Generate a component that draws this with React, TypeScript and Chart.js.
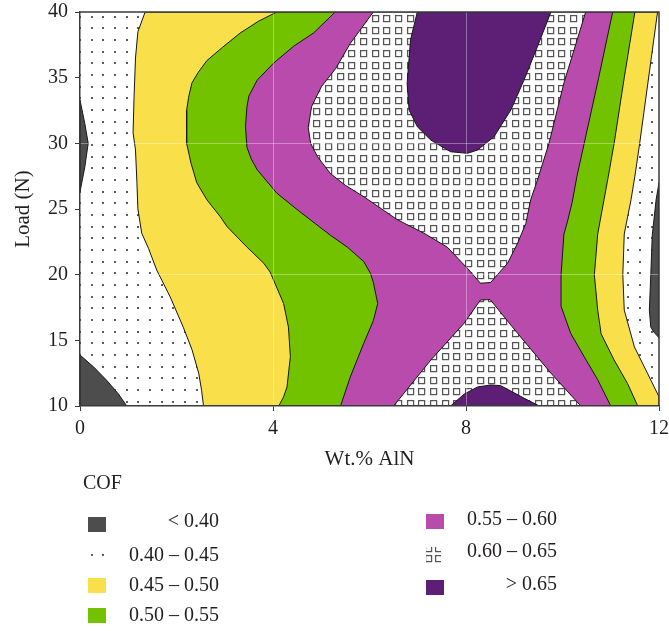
import React, { useEffect, useRef } from 'react';
import { Chart, registerables } from 'chart.js';

Chart.register(...registerables);

type Pt = [number, number];

// ---------- axes ----------
const X_MIN = 0;
const X_MAX = 12;
const X_STEP = 4;
const Y_MIN = 10;
const Y_MAX = 40;
const Y_STEP = 5;
const X_GRID_VALUES = [4, 8];
const Y_GRID_VALUES = [20, 30];
const X_TITLE = 'Wt.% AlN';
const Y_TITLE = 'Load (N)';

// ---------- legend ----------
const LEGEND_TITLE = 'COF';
const LEVEL_LABELS = ['< 0.40', '0.40 – 0.45', '0.45 – 0.50', '0.50 – 0.55', '0.55 – 0.60', '0.60 – 0.65', '> 0.65'];
const LEVEL_FILLS = ['#4d4d4d', 'dots', '#f9e04b', '#72c200', '#b94bad', 'squares', '#5d1f76'];

// ---------- contour boundaries (Wt.% AlN, Load N) ----------
const PLOT_BOUNDS: Pt[] = [[X_MIN, Y_MIN], [X_MAX, Y_MIN], [X_MAX, Y_MAX], [X_MIN, Y_MAX]];

const YELLOW_LEFT: Pt[] = [
  [1.35, 40], [1.2, 38.5], [1.15, 36.5], [1.12, 33.5], [1.1, 30.8], [1.15, 29.5], [1.18, 27], [1.2, 25],
  [1.28, 23.15], [1.42, 22], [1.59, 20.35], [1.87, 18.3], [2.14, 16.0], [2.32, 14.3], [2.46, 12.5],
  [2.52, 11.2], [2.56, 10],
];
const YELLOW_RIGHT: Pt[] = [
  [11.97, 40], [11.77, 34.6], [11.6, 30], [11.5, 27.5], [11.42, 25.7], [11.28, 23.1], [11.25, 20],
  [11.28, 17.3], [11.49, 14.5], [11.76, 12.5], [12, 10.7],
];
const GREEN_LEFT: Pt[] = [
  [4.08, 40], [3.7, 39.3], [3.32, 38.4], [2.95, 37.3], [2.63, 36.3], [2.45, 35.4], [2.32, 34.6],
  [2.25, 33.5], [2.21, 32.5], [2.21, 30], [2.3, 28.5], [2.42, 27.0], [2.63, 25.7], [2.91, 24.4],
  [3.05, 23.65], [3.46, 22.1], [3.81, 20.86], [3.94, 20.2], [4.01, 19.6], [4.22, 17.8], [4.32, 16.0],
  [4.36, 13.75], [4.29, 11.45], [4.22, 10.7], [4.12, 10],
];
const GREEN_RIGHT: Pt[] = [
  [11.5, 40], [11.28, 35], [11.07, 30], [10.95, 27.5], [10.86, 25.7], [10.73, 23.1], [10.66, 20],
  [10.73, 17.3], [10.8, 15.5], [11.07, 13.5], [11.35, 11.7], [11.56, 10],
];
const MAGENTA_LEFT: Pt[] = [
  [5.29, 40], [4.84, 38.4], [4.43, 37.4], [4.01, 36.1], [3.67, 34.8], [3.5, 33.6], [3.46, 32.8],
  [3.43, 31.3], [3.46, 29.7], [3.55, 28.8], [3.67, 28.0], [4.08, 26.2], [4.52, 24.9], [5.19, 23.0],
  [5.54, 22.1], [5.88, 21.0], [6.02, 20.1], [6.08, 19.4], [6.17, 17.8], [6.08, 16.5], [5.88, 14.77],
  [5.6, 12.2], [5.4, 10],
];
const MAGENTA_RIGHT: Pt[] = [
  [11.04, 40], [10.75, 35], [10.45, 30], [10.3, 27.5], [10.2, 25.5], [10.1, 24], [10.03, 23.1],
  [9.97, 20], [9.97, 17.6], [10.17, 15.53], [10.45, 13.75], [10.73, 12.0], [11.0, 10],
];
const SQUARES_UPPER: Pt[] = [
  [6.08, 40], [5.6, 37.6], [5.3, 35.7], [5.0, 34.3], [4.8, 32.8], [4.73, 31.2], [4.78, 30.0],
  [4.92, 29], [5.19, 27.7], [5.5, 26.8], [5.88, 25.94], [6.57, 24.2], [7.13, 23.15], [7.61, 22.1],
  [8.03, 20.48], [8.3, 19.35], [8.51, 19.4], [8.7, 20.2], [8.86, 20.86], [9.07, 22.4], [9.24, 23.9],
  [9.34, 25.7], [9.48, 27.2], [9.72, 30], [10.03, 34.6], [10.48, 40],
];
const SQUARES_LOWER: Pt[] = [
  [6.5, 10], [7.27, 13.5], [7.96, 16.3], [8.3, 18.07], [8.5, 18.1], [9.07, 15.53], [9.76, 12.5], [10.38, 10],
];
const PURPLE_TOP: Pt[] = [
  [6.99, 40], [6.85, 37.87], [6.78, 34.57], [6.82, 32.54], [6.99, 31.27], [7.27, 30.25], [7.68, 29.36],
  [8.03, 29.24], [8.24, 29.49], [8.58, 30.5], [8.93, 32.54], [9.2, 34.8], [9.48, 37.36], [9.76, 40],
];
const PURPLE_BOTTOM: Pt[] = [
  [7.68, 10], [7.96, 10.9], [8.24, 11.45], [8.51, 11.6], [8.72, 11.55], [9.2, 10.6], [9.52, 10],
];
const GRAY_LEFT_MID: Pt[] = [[0, 33.3], [0.1, 31.5], [0.17, 30], [0.1, 28.2], [0, 26.3]];
const GRAY_LEFT_LOW: Pt[] = [[0, 13.88], [0.28, 12.98], [0.55, 11.97], [0.8, 10.9], [0.97, 10], [0, 10]];
const GRAY_RIGHT: Pt[] = [
  [12, 27.0], [11.94, 25.7], [11.86, 23], [11.83, 20], [11.8, 17.3], [11.83, 16.0], [11.9, 15.6], [12, 15.2],
];

const rev = (a: Pt[]) => [...a].reverse();

// painter's order: first drawn first
const REGIONS: { level: number; pts: Pt[]; stroke: boolean }[] = [
  { level: 1, pts: PLOT_BOUNDS, stroke: false },
  { level: 2, pts: [...YELLOW_LEFT, [X_MAX, Y_MIN], ...rev(YELLOW_RIGHT)], stroke: true },
  { level: 3, pts: [...GREEN_LEFT, ...rev(GREEN_RIGHT)], stroke: true },
  { level: 4, pts: [...MAGENTA_LEFT, ...rev(MAGENTA_RIGHT)], stroke: true },
  { level: 5, pts: SQUARES_UPPER, stroke: true },
  { level: 5, pts: SQUARES_LOWER, stroke: true },
  { level: 6, pts: PURPLE_TOP, stroke: true },
  { level: 6, pts: PURPLE_BOTTOM, stroke: true },
  { level: 0, pts: GRAY_LEFT_MID, stroke: true },
  { level: 0, pts: GRAY_LEFT_LOW, stroke: true },
  { level: 0, pts: GRAY_RIGHT, stroke: true },
];

// ---------- styling ----------
const FONT = '"Liberation Serif", "Times New Roman", serif';
const TEXT = '#231f20';
const AXIS = '#3a3a3a';
const LINE = '#161616';
const DOT_GRAY = '#5e5e5e';
const SQUARE_GRAY = '#555555';

function drawDots(g: CanvasRenderingContext2D) {
  g.fillStyle = DOT_GRAY;
  for (const x of [0, 12, 23]) for (const y of [4, 15, 27]) g.fillRect(x, y, 2, 2);
}
function drawSquares(g: CanvasRenderingContext2D) {
  g.strokeStyle = SQUARE_GRAY;
  g.lineWidth = 1.25;
  for (const x of [0, 12, 23]) for (const y of [3, 15, 26]) g.strokeRect(x + 0.6, y + 0.6, 6, 6);
}
function makePattern(kind: 'dots' | 'squares', ox: number, oy: number): CanvasPattern {
  const c = document.createElement('canvas');
  c.width = 35;
  c.height = 35;
  const g = c.getContext('2d')!;
  g.fillStyle = '#ffffff';
  g.fillRect(0, 0, 35, 35);
  if (kind === 'dots') drawDots(g);
  else drawSquares(g);
  const p = g.createPattern(c, 'repeat')!;
  p.setTransform(new DOMMatrix([1, 0, 0, 1, ox, oy]));
  return p;
}

const frameAndLegend = {
  id: 'frameAndLegend',
  afterDraw(chart: any) {
    const ctx: CanvasRenderingContext2D = chart.ctx;
    const a = chart.chartArea;
    ctx.save();
    // top and right frame
    ctx.strokeStyle = AXIS;
    ctx.lineWidth = 1.5;
    ctx.beginPath();
    ctx.moveTo(a.left, a.top);
    ctx.lineTo(a.right, a.top);
    ctx.lineTo(a.right, a.bottom);
    ctx.stroke();

    // legend
    ctx.fillStyle = TEXT;
    ctx.font = `20px ${FONT}`;
    ctx.textBaseline = 'middle';
    ctx.textAlign = 'left';
    ctx.fillText(LEGEND_TITLE, 83, 484);

    const slots = [
      { sx: 88, sy: 517, tx: 219, ty: 522 },
      { sx: 88, sy: 548, tx: 219, ty: 556 },
      { sx: 88, sy: 578, tx: 219, ty: 585.5 },
      { sx: 88, sy: 608, tx: 219, ty: 615.5 },
      { sx: 426, sy: 514, tx: 557, ty: 520 },
      { sx: 426, sy: 547, tx: 557, ty: 552 },
      { sx: 426, sy: 580, tx: 557, ty: 585 },
    ];
    LEVEL_LABELS.forEach((label, i) => {
      const s = slots[i];
      const f = LEVEL_FILLS[i];
      if (f === 'dots') {
        ctx.fillStyle = DOT_GRAY;
        ctx.fillRect(91, 554, 2, 2);
        ctx.fillRect(102, 554, 2, 2);
      } else if (f === 'squares') {
        ctx.save();
        ctx.beginPath();
        ctx.rect(s.sx, s.sy, 15, 16);
        ctx.clip();
        ctx.strokeStyle = SQUARE_GRAY;
        ctx.lineWidth = 1.25;
        for (const x of [s.sx - 1, s.sx + 9]) for (const y of [s.sy - 2, s.sy + 8]) ctx.strokeRect(x + 0.6, y + 0.6, 6, 6);
        ctx.restore();
      } else {
        ctx.fillStyle = f;
        ctx.fillRect(s.sx, s.sy, 18, 15);
      }
      ctx.fillStyle = TEXT;
      ctx.textAlign = 'right';
      ctx.fillText(label, s.tx, s.ty);
    });
    ctx.restore();
  },
};

export default function App() {
  const ref = useRef<HTMLCanvasElement>(null);

  useEffect(() => {
    const canvas = ref.current!;
    const dots = makePattern('dots', 79, 12);
    const squares = makePattern('squares', 80, 12);
    const fillFor = (level: number) => {
      const f = LEVEL_FILLS[level];
      return f === 'dots' ? dots : f === 'squares' ? squares : f;
    };

    const datasets = REGIONS.map((r, i) => ({
      label: LEVEL_LABELS[r.level],
      data: [...r.pts, r.pts[0]].map(([x, y]) => ({ x, y })),
      backgroundColor: fillFor(r.level),
      borderColor: r.stroke ? LINE : 'rgba(0,0,0,0)',
      borderWidth: 1,
      fill: 'shape',
      pointRadius: 0,
      pointHoverRadius: 0,
      tension: 0,
      order: 100 - i,
    }));

    const chart = new Chart(canvas, {
      type: 'line',
      data: { datasets } as any,
      options: {
        responsive: false,
        animation: false,
        devicePixelRatio: 1,
        events: [],
        layout: { padding: { top: 12, right: 10, left: 0, bottom: 0 } },
        plugins: {
          legend: { display: false },
          tooltip: { enabled: false },
        },
        scales: {
          x: {
            type: 'linear',
            min: X_MIN,
            max: X_MAX,
            ticks: { stepSize: X_STEP, color: TEXT, font: { family: FONT, size: 20 }, padding: 6 },
            grid: {
              z: 1,
              color: (c: any) => (c.tick && X_GRID_VALUES.includes(c.tick.value) ? 'rgba(255,255,255,0.35)' : 'rgba(0,0,0,0)'),
              tickColor: AXIS,
              tickLength: 5,
            },
            border: { z: 1, color: AXIS, width: 1.5 },
            title: {
              display: true,
              text: X_TITLE,
              color: TEXT,
              font: { family: FONT, size: 21 },
              padding: { top: 0, bottom: 159 },
            },
            afterFit: (s: any) => {
              s.height = 225;
              s.paddingLeft = 0;
              s.paddingRight = 0;
            },
          },
          y: {
            type: 'linear',
            min: Y_MIN,
            max: Y_MAX,
            ticks: { stepSize: Y_STEP, color: TEXT, font: { family: FONT, size: 20 }, padding: 7 },
            grid: {
              z: 1,
              color: (c: any) => (c.tick && Y_GRID_VALUES.includes(c.tick.value) ? 'rgba(255,255,255,0.35)' : 'rgba(0,0,0,0)'),
              tickColor: AXIS,
              tickLength: 5,
            },
            border: { z: 1, color: AXIS, width: 1.5 },
            title: {
              display: true,
              text: Y_TITLE,
              color: TEXT,
              font: { family: FONT, size: 21 },
              padding: { top: 11, bottom: 0 },
            },
            afterFit: (s: any) => {
              s.width = 80;
              s.paddingTop = 0;
              s.paddingBottom = 0;
            },
          },
        },
      } as any,
      plugins: [frameAndLegend],
    });
    return () => chart.destroy();
  }, []);

  return (
    <div style={{ position: 'fixed', left: 0, top: 0, width: 669, height: 631, background: '#ffffff' }}>
      <canvas ref={ref} width={669} height={631} style={{ display: 'block', width: 669, height: 631 }} />
    </div>
  );
}
